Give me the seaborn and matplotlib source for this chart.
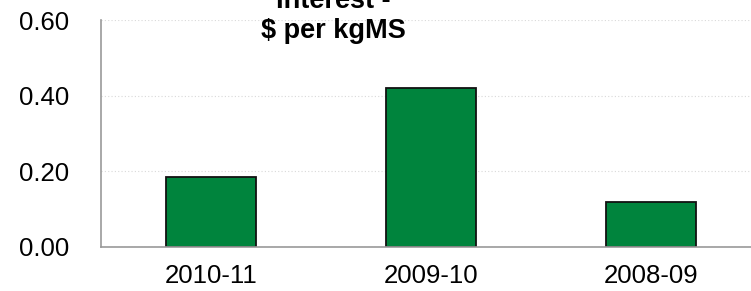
import pandas as pd
import matplotlib
matplotlib.use("Agg")
import matplotlib.pyplot as plt
import seaborn as sns

# Values
seasons = ["2010-11", "2009-10", "2008-09"]
interest = [0.185, 0.421, 0.119]
y_ticks = [0.0, 0.2, 0.4, 0.6]

df = pd.DataFrame({"Season": seasons, "Interest": interest})

sns.set_style("white")
plt.rcParams["font.family"] = ["Liberation Sans", "DejaVu Sans"]
plt.rcParams["text.color"] = "black"

fig = plt.figure(figsize=(7.51, 2.91), dpi=100)
W, H = 751, 291
ax = fig.add_axes([101 / W, (H - 247) / H, 660 / W, 227 / H])

sns.barplot(data=df, x="Season", y="Interest", color="#00843D", saturation=1,
            width=0.405, edgecolor="#111111", linewidth=1.3, ax=ax)

ax.set_xlim(-0.5, 2.5)
ax.set_ylim(0, 0.6)
ax.set_yticks(y_ticks)
ax.set_yticklabels([f"{v:.2f}" for v in y_ticks])
ax.yaxis.grid(True, linestyle=(0, (1, 2)), color="#d9d9d9", linewidth=0.8)
ax.set_axisbelow(True)
ax.set_xlabel("")
ax.set_ylabel("")
ax.tick_params(axis="y", length=0, pad=23, labelsize=18.5, labelcolor="black")
ax.tick_params(axis="x", length=0, pad=12, labelsize=18.5, labelcolor="black")

for side in ["top", "right"]:
    ax.spines[side].set_visible(False)
for side in ["left", "bottom"]:
    ax.spines[side].set_color("#999999")
    ax.spines[side].set_linewidth(1.2)

fig.text(333 / W, 1 - 38 / H, "Interest -\n$ per kgMS", ha="center", va="baseline",
         fontsize=19.5, fontweight="bold", linespacing=1.2, color="black")

fig.savefig("out.png", dpi=100)
